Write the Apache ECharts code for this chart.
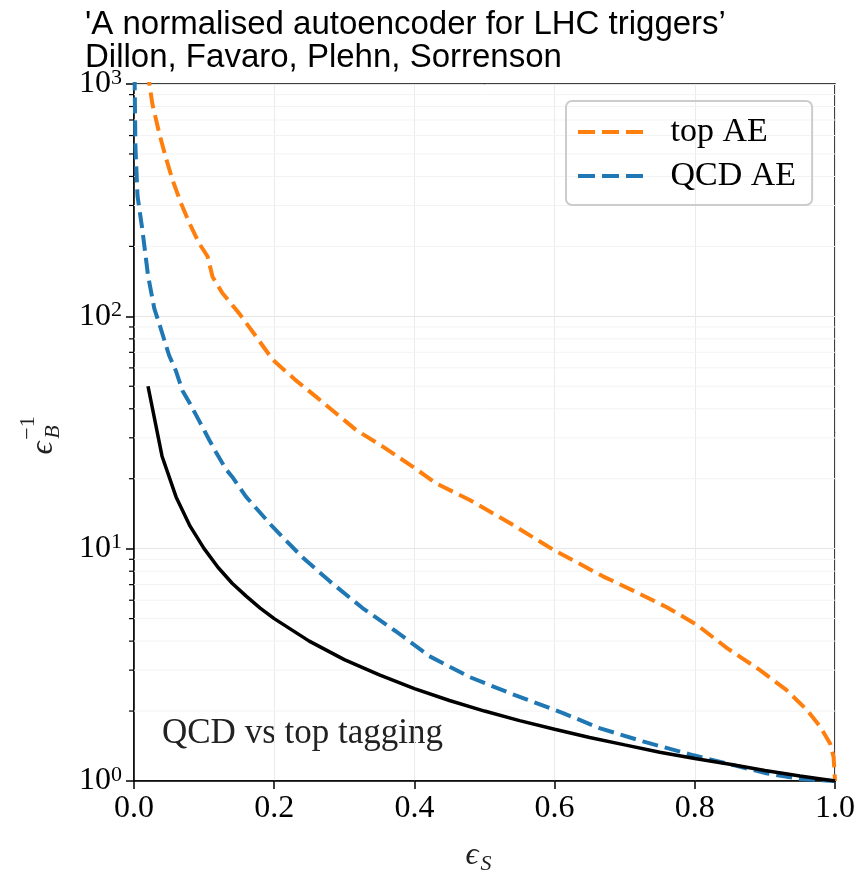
<!DOCTYPE html>
<html>
<head>
<meta charset="utf-8">
<script src="https://cdn.jsdelivr.net/npm/echarts@6/dist/echarts.min.js"></script>
<style>
  html, body { margin: 0; padding: 0; background: #fff; }
  #chart { width: 859px; height: 874px; }
</style>
</head>
<body>
<div id="chart"></div>
<script>
// top AE: [eps_S, 1/eps_B]
const topAE = [
  [0.018, 1150], [0.022, 1000], [0.026, 826], [0.036, 614], [0.045, 487], [0.055, 386],
  [0.067, 307], [0.079, 252], [0.093, 206], [0.105, 181], [0.112, 148], [0.126, 126],
  [0.150, 103], [0.174, 82], [0.198, 65], [0.231, 53], [0.26, 45], [0.288, 38.3],
  [0.317, 32.4], [0.355, 27.5], [0.398, 22.5], [0.431, 19.1], [0.479, 16.2], [0.536, 12.9],
  [0.598, 9.9], [0.669, 7.6], [0.712, 6.6], [0.76, 5.6], [0.803, 4.7], [0.846, 3.73],
  [0.893, 3.0], [0.931, 2.46], [0.96, 2.02], [0.979, 1.71], [0.993, 1.45], [0.998, 1.27],
  [1.0, 1.0]
];
// QCD AE
const qcdAE = [
  [0.0008, 1100], [0.002, 540], [0.005, 330], [0.012, 235], [0.02, 150], [0.029, 108],
  [0.036, 93], [0.05, 68], [0.06, 58], [0.069, 48], [0.08, 42], [0.093, 35.5],
  [0.107, 29.5], [0.117, 26], [0.131, 22], [0.14, 20.4], [0.16, 16.7], [0.198, 12.4],
  [0.24, 9.2], [0.279, 7.25], [0.326, 5.55], [0.374, 4.4], [0.421, 3.45], [0.479, 2.8],
  [0.536, 2.39], [0.612, 1.96], [0.664, 1.69], [0.726, 1.48], [0.798, 1.29], [0.855, 1.17],
  [0.902, 1.08], [0.95, 1.02], [1.0, 1.0]
];
// black reference curve
const randomTag = [
  [0.02, 50], [0.04, 25], [0.06, 16.7], [0.08, 12.5], [0.1, 10], [0.12, 8.3],
  [0.14, 7.1], [0.16, 6.25], [0.18, 5.55], [0.2, 5], [0.25, 4], [0.3, 3.33],
  [0.35, 2.86], [0.4, 2.5], [0.45, 2.22], [0.5, 2], [0.55, 1.82], [0.6, 1.67],
  [0.65, 1.54], [0.7, 1.43], [0.75, 1.33], [0.8, 1.25], [0.85, 1.18], [0.9, 1.11],
  [0.95, 1.05], [1.0, 1.0]
];
// minor log ticks
const minorTicks = [2, 3, 4, 5, 6, 7, 8, 9, 20, 30, 40, 50, 60, 70, 80, 90, 200, 300, 400, 500, 600, 700, 800, 900];

const serif = '"Liberation Serif", "DejaVu Serif", serif';
const dashIcon = 'path://M0 0H17V4H0Z M24 0H41V4H24Z M48 0H65V4H48Z';
const chart = echarts.init(document.getElementById('chart'));

const option = {
  animation: false,
  title: {
    text: "'A normalised autoencoder for LHC triggers’\nDillon, Favaro, Plehn, Sorrenson",
    left: 80,
    top: 3,
    textStyle: {
      fontFamily: '"Liberation Sans", Arial, sans-serif',
      fontWeight: 'normal',
      fontSize: 33,
      lineHeight: 33,
      color: '#000'
    }
  },
  grid: {
    left: 134, right: 24, top: 84, bottom: 93,
    show: true, borderColor: '#000', borderWidth: 1.5, backgroundColor: 'transparent'
  },
  legend: {
    orient: 'vertical',
    left: 566, top: 101,
    padding: [14, 16, 12, 12],
    itemGap: 10,
    itemWidth: 66, itemHeight: 4,
    borderColor: '#ccc', borderWidth: 2, borderRadius: 6,
    data: [
      { name: 'top AE', icon: dashIcon },
      { name: 'QCD AE', icon: dashIcon }
    ],
    textStyle: { fontFamily: serif, fontSize: 34, color: '#000', padding: [0, 0, 0, 22] }
  },
  xAxis: {
    type: 'value', min: 0, max: 1, interval: 0.2,
    axisLine: { onZero: false, lineStyle: { color: '#000', width: 1.5 } },
    axisTick: { length: 8, lineStyle: { color: '#000', width: 1.5 } },
    axisLabel: {
      margin: 12, fontFamily: serif, fontSize: 32, color: '#000',
      formatter: v => v.toFixed(1)
    },
    splitLine: { show: true, lineStyle: { color: '#ebebeb', width: 1 } }
  },
  yAxis: {
    type: 'log', logBase: 10, min: 1, max: 1000,
    axisLine: { lineStyle: { color: '#000', width: 1.5 } },
    axisTick: { length: 8, lineStyle: { color: '#000', width: 1.5 } },
    axisLabel: {
      margin: 12, color: '#000',
      formatter: v => '{b|10}{e|' + Math.round(Math.log10(v)) + '}',
      rich: {
        b: { fontFamily: serif, fontSize: 32, color: '#000' },
        e: { fontFamily: serif, fontSize: 22, color: '#000', padding: [0, 0, 12, 0] }
      }
    },
    splitLine: { show: true, lineStyle: { color: '#e6e6e6', width: 1 } }
  },
  graphic: [
    { type: 'text', left: 162, top: 716, style: { text: 'QCD vs top tagging', font: '35px ' + serif, fill: '#222' } },
    { type: 'text', x: 472, y: 856, style: { text: 'ϵ', font: 'italic 32px ' + serif, fill: '#222', textAlign: 'center', textVerticalAlign: 'middle' } },
    { type: 'text', x: 486, y: 864, style: { text: 'S', font: 'italic 22px ' + serif, fill: '#222', textAlign: 'center', textVerticalAlign: 'middle' } },
    { type: 'text', x: 44, y: 448, rotation: Math.PI / 2, style: { text: 'ϵ', font: 'italic 32px ' + serif, fill: '#222', textAlign: 'center', textVerticalAlign: 'middle' } },
    { type: 'text', x: 53, y: 432, rotation: Math.PI / 2, style: { text: 'B', font: 'italic 22px ' + serif, fill: '#222', textAlign: 'center', textVerticalAlign: 'middle' } },
    { type: 'text', x: 28, y: 428, rotation: Math.PI / 2, style: { text: '−1', font: '22px ' + serif, fill: '#222', textAlign: 'center', textVerticalAlign: 'middle' } }
  ],
  series: [
    {
      type: 'custom',
      silent: true,
      data: minorTicks.map(v => [0, v]),
      renderItem: (params, api) => {
        const p = api.coord([0, api.value(1)]);
        const q = api.coord([1, api.value(1)]);
        return {
          type: 'group',
          children: [
            { type: 'line', shape: { x1: p[0], y1: p[1], x2: q[0], y2: q[1] }, style: { stroke: '#f3f3f3', lineWidth: 1 }, z2: -1 },
            { type: 'line', shape: { x1: p[0] - 5, y1: p[1], x2: p[0], y2: p[1] }, style: { stroke: '#000', lineWidth: 1.2 } }
          ]
        };
      },
      z: 1
    },
    {
      name: 'top AE', type: 'line', data: topAE, showSymbol: false, symbol: 'none',
      clip: true, itemStyle: { color: '#ff7f0e' },
      lineStyle: { color: '#ff7f0e', width: 4, type: [16, 7] }, z: 3
    },
    {
      name: 'QCD AE', type: 'line', data: qcdAE, showSymbol: false, symbol: 'none',
      clip: true, itemStyle: { color: '#1f77b4' },
      lineStyle: { color: '#1f77b4', width: 4, type: [16, 7] }, z: 3
    },
    {
      name: 'random', type: 'line', data: randomTag, showSymbol: false, symbol: 'none',
      clip: true, itemStyle: { color: '#000' },
      lineStyle: { color: '#000', width: 3.5 }, z: 4
    }
  ]
};

chart.setOption(option);
</script>
</body>
</html>
